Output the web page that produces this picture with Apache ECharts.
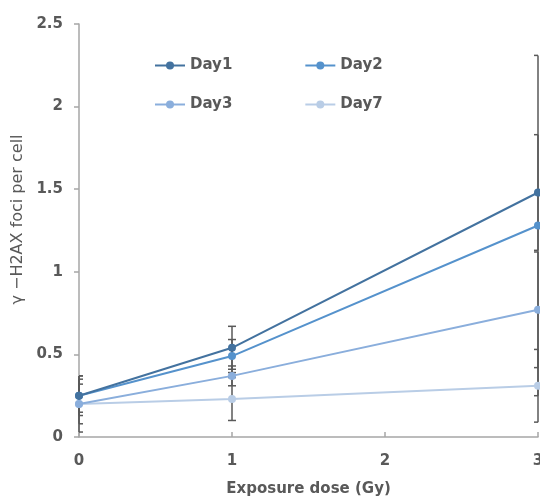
<!DOCTYPE html>
<html>
<head>
<meta charset="utf-8">
<script src="https://cdn.jsdelivr.net/npm/echarts@6/dist/echarts.min.js"></script>
<style>
  html, body { margin: 0; padding: 0; background: #fff; }
  #main { width: 540px; height: 497px; }
</style>
</head>
<body>
<div id="main"></div>
<script>
const doses = [0, 1, 3];
const day1 = [0.25, 0.54, 1.48];
const day2 = [0.25, 0.49, 1.28];
const day3 = [0.20, 0.37, 0.77];
const day7 = [0.20, 0.23, 0.31];
// error bar half-widths read from the caps
const day1Err = [0.12, 0.13, 0.35];
const day2Err = [0.10, 0.10, 1.03];
const day3Err = [0.12, 0.06, 0.35];
const day7Err = [0.17, 0.13, 0.22];
const yTicks = [0, 0.5, 1, 1.5, 2, 2.5];

const names = ['Day1', 'Day2', 'Day3', 'Day7'];
const values = [day1, day2, day3, day7];
const errs = [day1Err, day2Err, day3Err, day7Err];
const colors = ['#43729f', '#5592cc', '#8aaedc', '#b9cde6'];

const font = '"DejaVu Sans", sans-serif';
const textColor = '#595959';
const axisColor = '#a6a6a6';

const chart = echarts.init(document.getElementById('main'));

const series = [];
values.forEach((vals, i) => {
  series.push({
    type: 'custom',
    name: names[i] + ' err',
    clip: false,
    z: 1,
    silent: true,
    data: doses.map((d, j) => [d, vals[j], errs[i][j]]),
    renderItem: (params, api) => {
      const x = api.value(0), y = api.value(1), e = api.value(2);
      const top = api.coord([x, y + e]);
      const bot = api.coord([x, y - e]);
      const cs = params.coordSys;
      // caps are cut at the plot area edges, like the original
      const x1 = Math.max(top[0] - 4, cs.x);
      const x2 = Math.min(top[0] + 4, cs.x + cs.width);
      const style = { stroke: '#595959', lineWidth: 1.5 };
      return {
        type: 'group',
        children: [
          { type: 'line', shape: { x1: top[0], y1: top[1], x2: bot[0], y2: bot[1] }, style },
          { type: 'line', shape: { x1: x1, y1: top[1], x2: x2, y2: top[1] }, style },
          { type: 'line', shape: { x1: x1, y1: bot[1], x2: x2, y2: bot[1] }, style }
        ]
      };
    }
  });
});
values.forEach((vals, i) => {
  series.push({
    type: 'line',
    name: names[i],
    z: 3 + (3 - i),
    data: doses.map((d, j) => [d, vals[j]]),
    symbol: 'circle',
    symbolSize: 8,
    color: colors[i],
    lineStyle: { width: 2, color: colors[i] },
    itemStyle: { color: colors[i] }
  });
});

const legendText = { fontFamily: font, fontSize: 15, fontWeight: 'bold', color: textColor };

const option = {
  animation: false,
  backgroundColor: '#fff',
  grid: { left: 79, right: 2, top: 24, bottom: 60, outerBoundsMode: 'none' },
  legend: [
    { data: ['Day1', 'Day2'], left: 149, top: 53, itemWidth: 30, itemHeight: 10, itemGap: 72, textStyle: legendText },
    { data: ['Day3', 'Day7'], left: 149, top: 92, itemWidth: 30, itemHeight: 10, itemGap: 72, textStyle: legendText }
  ],
  xAxis: {
    type: 'value',
    min: 0,
    max: 3,
    interval: 1,
    name: 'Exposure dose (Gy)',
    nameLocation: 'middle',
    nameGap: 45,
    nameTextStyle: { fontFamily: font, fontSize: 15, fontWeight: 'bold', color: textColor },
    axisLine: { lineStyle: { color: axisColor, width: 1.5 } },
    axisTick: { inside: true, length: 5, lineStyle: { color: axisColor, width: 1.5 } },
    axisLabel: { fontFamily: font, fontSize: 15, fontWeight: 'bold', color: textColor, margin: 17 },
    splitLine: { show: false }
  },
  yAxis: {
    type: 'value',
    min: yTicks[0],
    max: yTicks[yTicks.length - 1],
    interval: 0.5,
    name: 'γ −H2AX foci per cell',
    nameLocation: 'middle',
    nameGap: 48,
    nameTextStyle: { fontFamily: font, fontSize: 16, color: textColor, padding: [0, 0, 0, 22] },
    axisLine: { show: true, lineStyle: { color: axisColor, width: 1.5 } },
    axisTick: { show: true, length: 5, lineStyle: { color: axisColor, width: 1.5 } },
    axisLabel: { fontFamily: font, fontSize: 15, fontWeight: 'bold', color: textColor, margin: 16 },
    splitLine: { show: false }
  },
  series: series
};

chart.setOption(option);
</script>
</body>
</html>
